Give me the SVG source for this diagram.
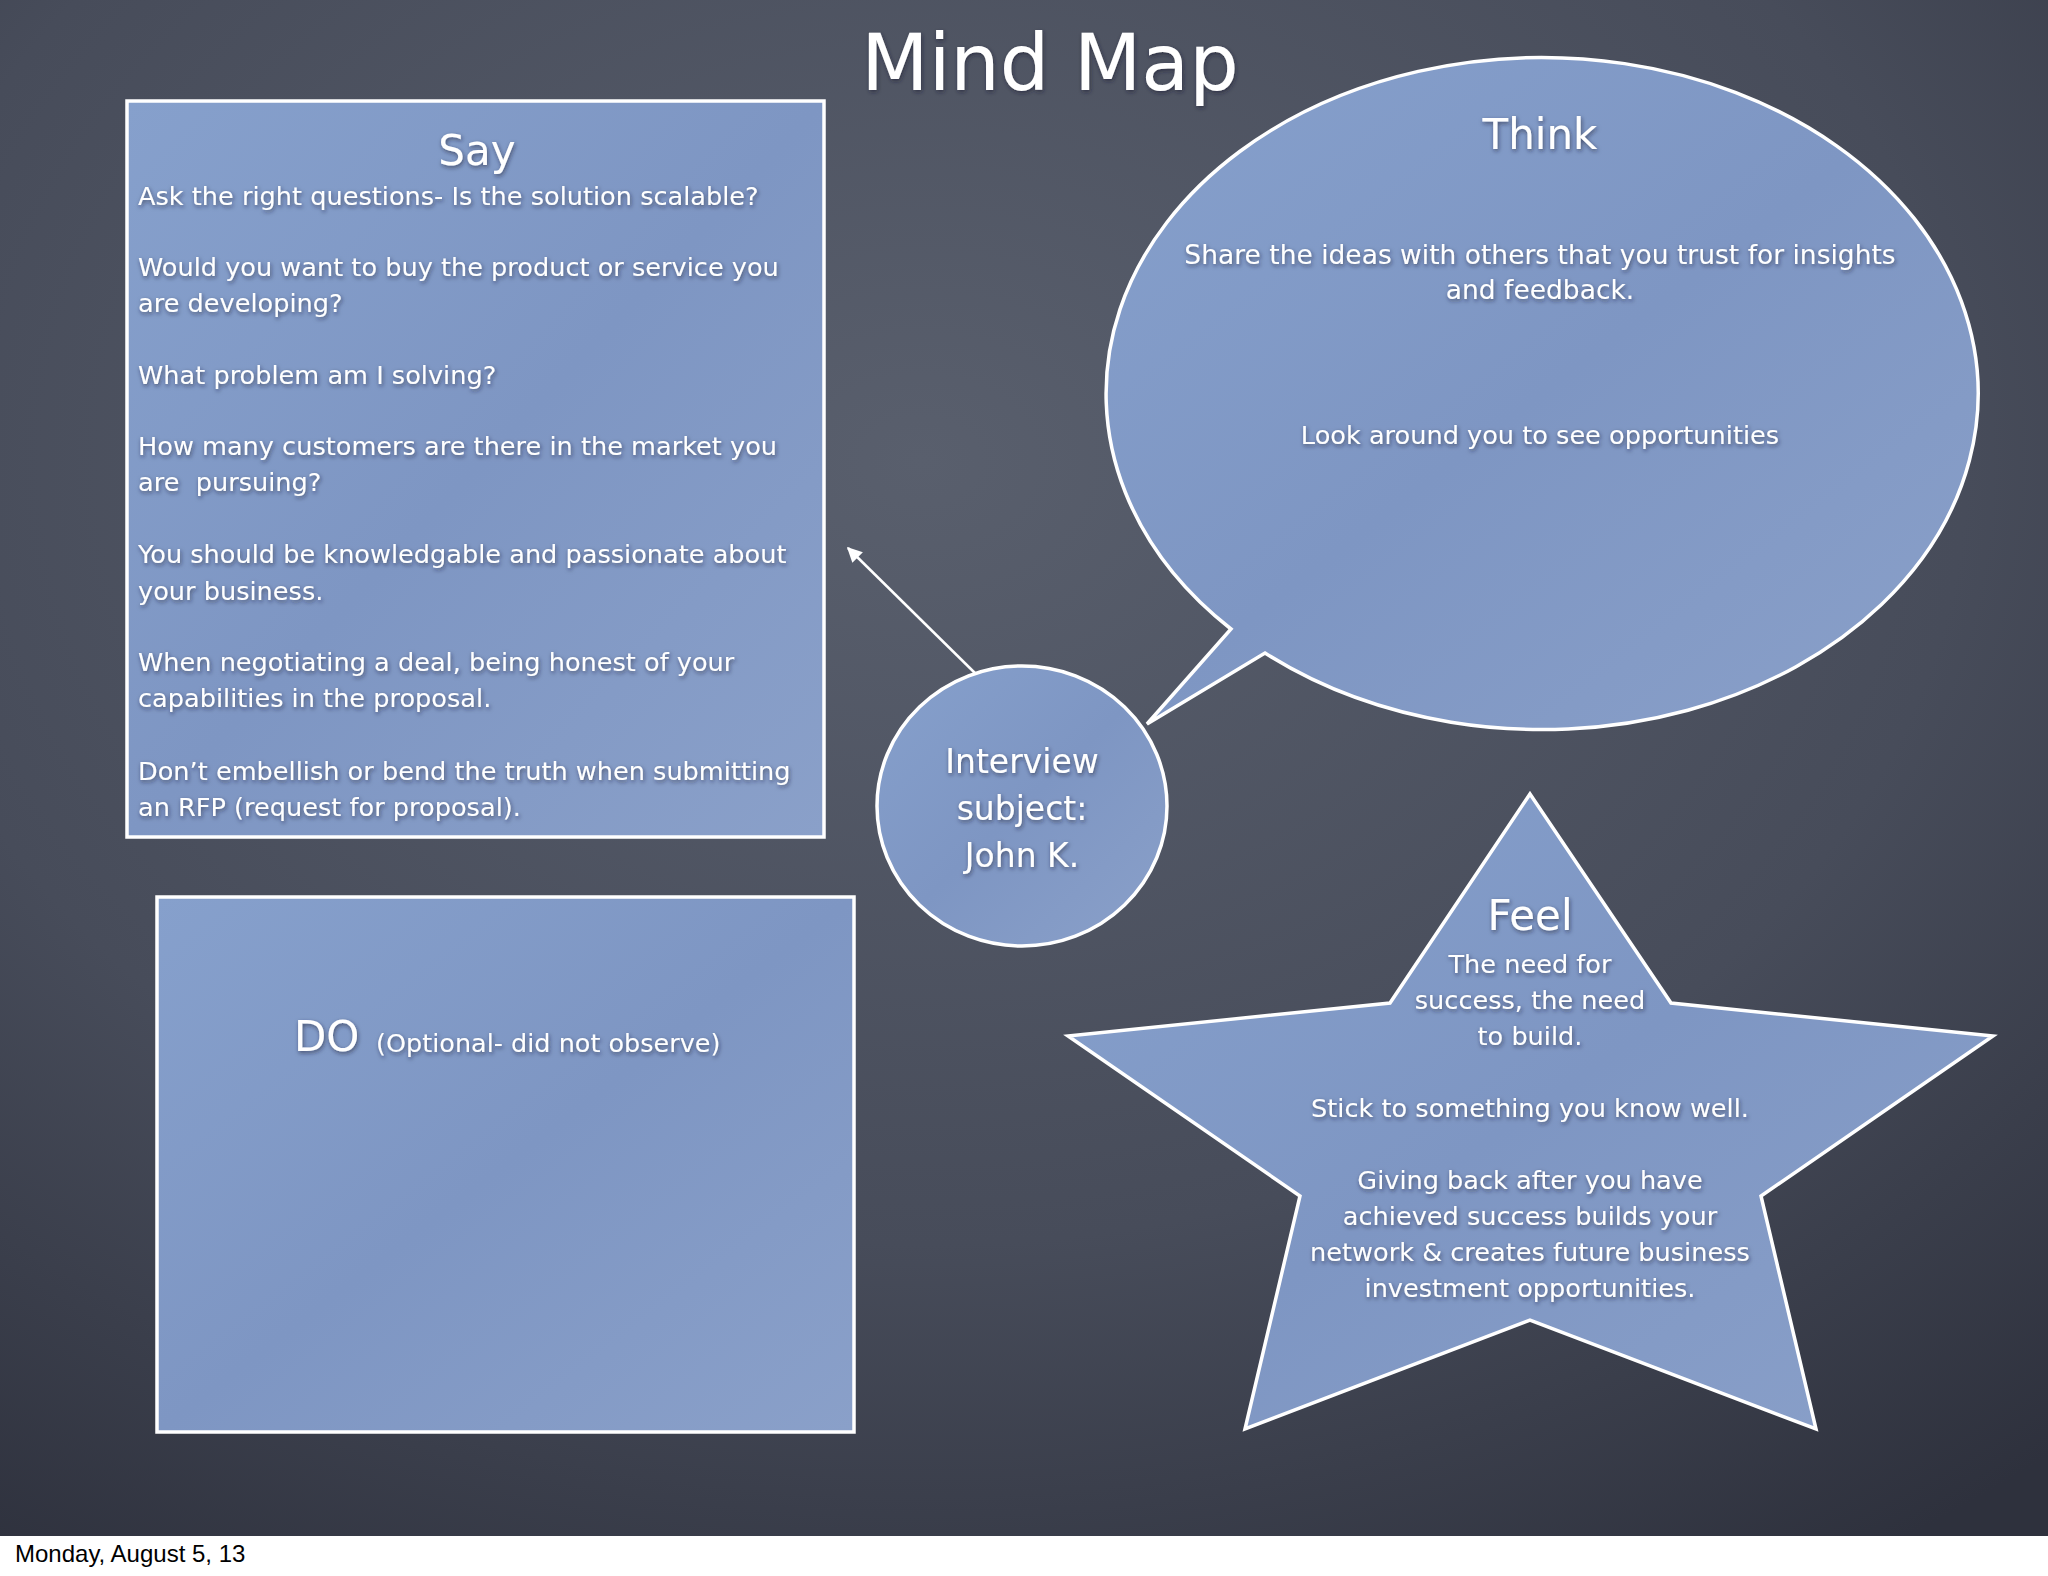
<svg xmlns="http://www.w3.org/2000/svg" width="2048" height="1576" viewBox="0 0 2048 1576">
<defs>
<radialGradient id="board" cx="0.45" cy="0.3" r="0.85">
<stop offset="0" stop-color="#595f6d"/>
<stop offset="0.6" stop-color="#474c5a"/>
<stop offset="1" stop-color="#2e313d"/>
</radialGradient>
<linearGradient id="paper" x1="0" y1="0" x2="1" y2="1">
<stop offset="0" stop-color="#86a0cc"/>
<stop offset="0.5" stop-color="#7e96c3"/>
<stop offset="1" stop-color="#8aa0c9"/>
</linearGradient>
<filter id="sh" x="-5%" y="-20%" width="110%" height="150%">
<feDropShadow dx="1" dy="2" stdDeviation="2" flood-color="#1a2030" flood-opacity="0.6"/>
</filter>
<marker id="arr" viewBox="0 0 10 10" refX="9" refY="5" markerWidth="6" markerHeight="6" orient="auto-start-reverse" markerUnits="strokeWidth">
<path d="M0,0 L10,5 L0,10 z" fill="#ffffff"/>
</marker>
<style>
.shape{fill:url(#paper);stroke:#ffffff;stroke-width:3.5}
.t{font-family:"DejaVu Sans","Noto Sans",sans-serif;fill:#ffffff;filter:url(#sh)}
.body{font-size:25.6px}
.head{font-size:42px}
.c{text-anchor:middle}
.conn{stroke:#ffffff;stroke-width:2.5;fill:none}
</style>
</defs>
<rect x="0" y="0" width="2048" height="1536" fill="url(#board)"/>
<rect x="0" y="1536" width="2048" height="40" fill="#ffffff"/>
<text x="15" y="1562" font-family="Liberation Sans, Arial, sans-serif" font-size="24" fill="#000000">Monday, August 5, 13</text>

<text class="t c" x="1050" y="90" font-size="78">Mind Map</text>

<g id="connectors">
<line class="conn" x1="980" y1="678" x2="848" y2="548" marker-end="url(#arr)"/>
</g>

<g id="say">
<rect class="shape" x="127" y="101" width="697" height="736"/>
<text class="t head c" x="477" y="165">Say</text>
<g class="t body">
<text x="138" y="205">Ask the right questions- Is the solution scalable?</text>
<text x="138" y="276">Would you want to buy the product or service you</text>
<text x="138" y="312">are developing?</text>
<text x="138" y="384">What problem am I solving?</text>
<text x="138" y="455">How many customers are there in the market you</text>
<text x="138" y="491" xml:space="preserve">are  pursuing?</text>
<text x="138" y="563">You should be knowledgable and passionate about</text>
<text x="138" y="600">your business.</text>
<text x="138" y="671">When negotiating a deal, being honest of your</text>
<text x="138" y="707">capabilities in the proposal.</text>
<text x="138" y="780">Don’t embellish or bend the truth when submitting</text>
<text x="138" y="816">an RFP (request for proposal).</text>
</g>
</g>

<g id="think">
<path class="shape" d="M1231,629 A436,336 0 1 1 1265,653 L1147,724 Z"/>
<text class="t head c" x="1540" y="149">Think</text>
<g class="t body c">
<text x="1540" y="264" font-size="26.5">Share the ideas with others that you trust for insights</text>
<text x="1540" y="299" font-size="26.5">and feedback.</text>
<text x="1540" y="444">Look around you to see opportunities</text>
</g>
</g>

<g id="interview">
<ellipse class="shape" cx="1022" cy="806" rx="145" ry="140"/>
<g class="t c" font-size="33">
<text x="1022" y="773">Interview</text>
<text x="1022" y="820">subject:</text>
<text x="1022" y="867">John K.</text>
</g>
</g>

<g id="do">
<rect class="shape" x="157" y="897" width="697" height="535"/>
<text class="t" x="294" y="1051" font-size="42">DO</text>
<text class="t" x="376" y="1052" font-size="25.5">(Optional- did not observe)</text>
</g>

<g id="feel">
<polygon class="shape" points="1530,794 1671,1003 1993,1036 1761,1196 1816,1429 1530,1320 1245,1429 1300,1196 1068,1036 1390,1003"/>
<text class="t head c" x="1530" y="930" font-size="40">Feel</text>
<g class="t body c">
<text x="1530" y="973">The need for</text>
<text x="1530" y="1009">success, the need</text>
<text x="1530" y="1045">to build.</text>
<text x="1530" y="1117">Stick to something you know well.</text>
<text x="1530" y="1189">Giving back after you have</text>
<text x="1530" y="1225">achieved success builds your</text>
<text x="1530" y="1261">network &amp; creates future business</text>
<text x="1530" y="1297">investment opportunities.</text>
</g>
</g>
</svg>
